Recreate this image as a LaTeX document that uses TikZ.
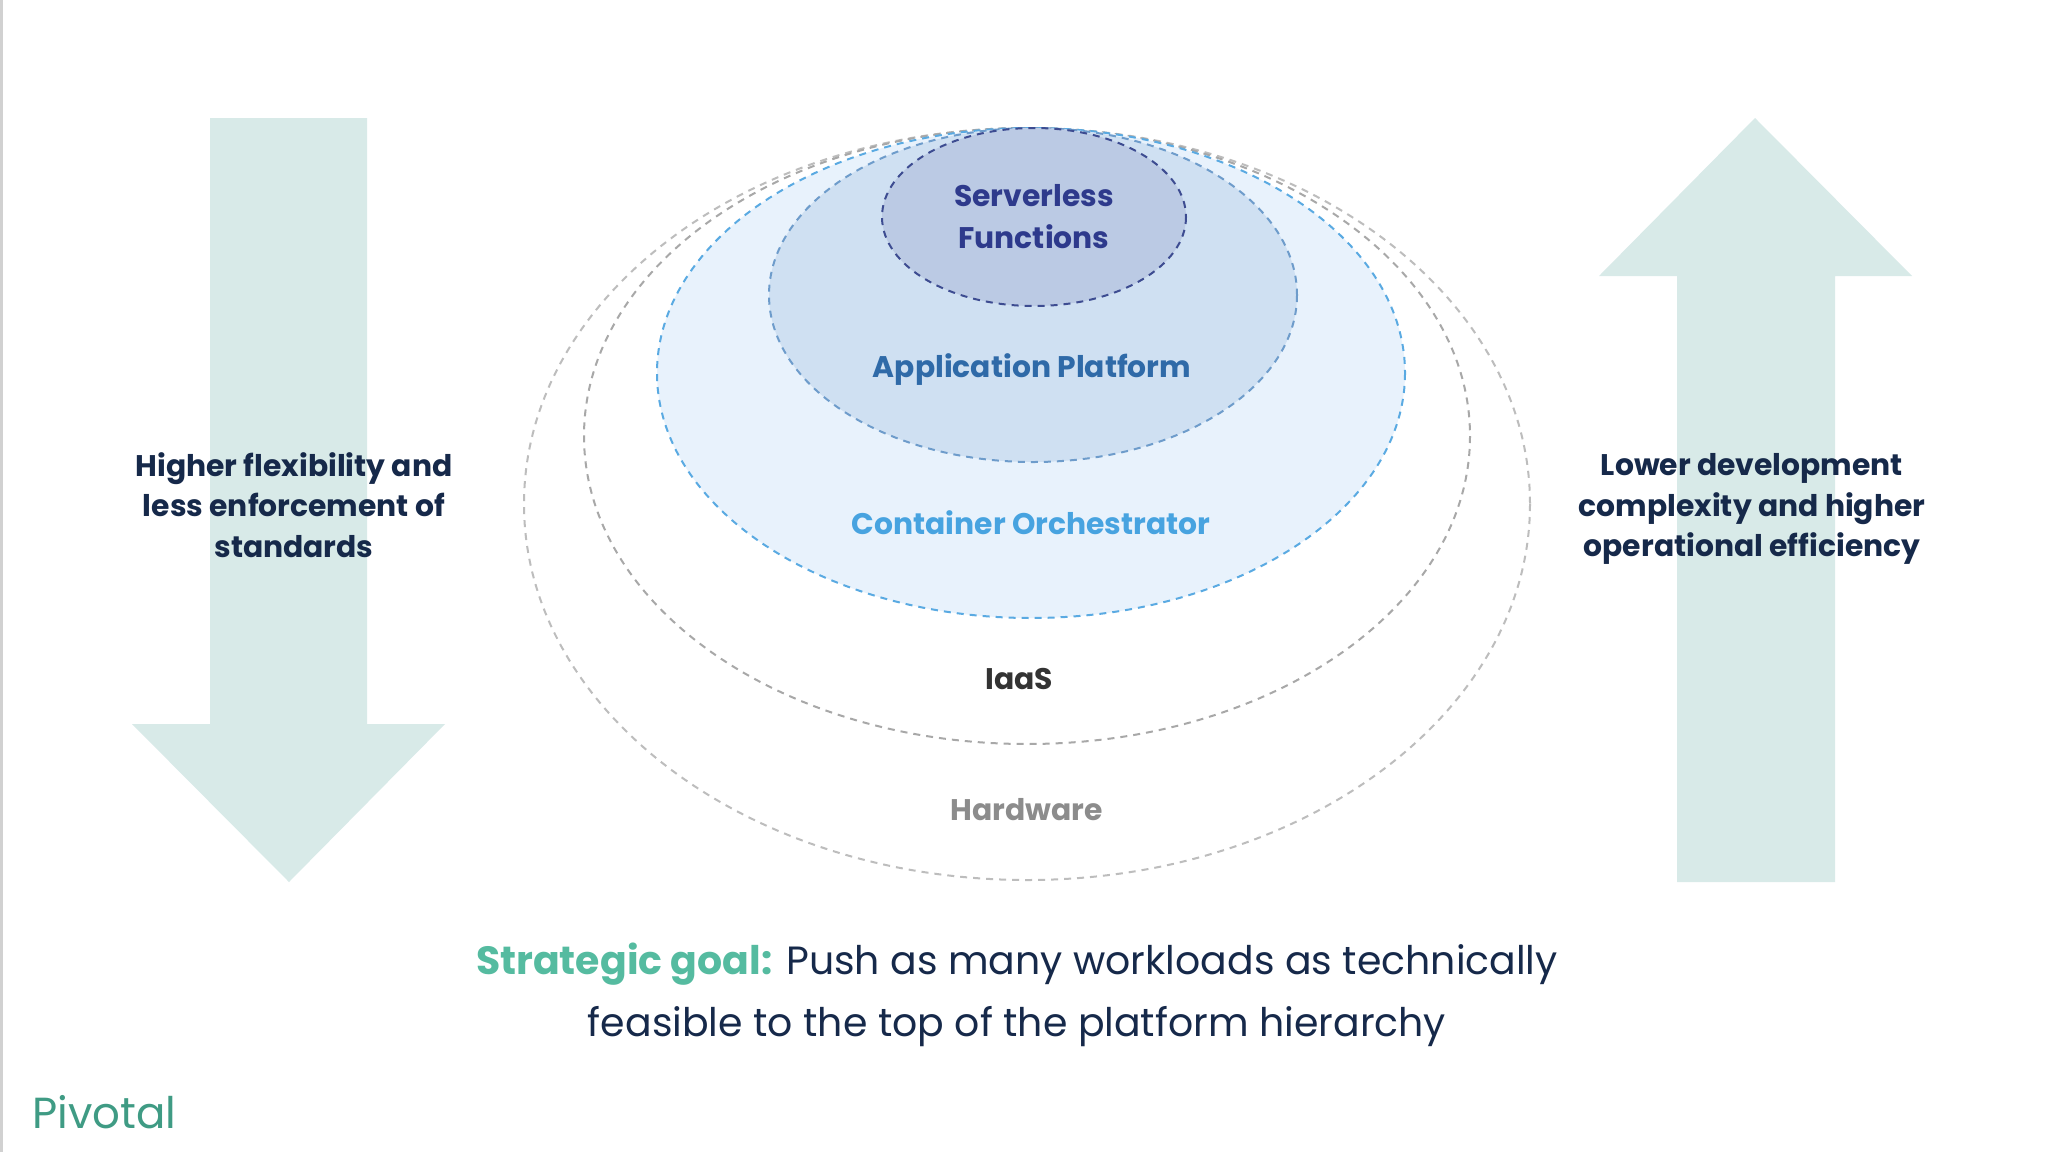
\documentclass[tikz,border=0pt]{standalone}
\usepackage{fontspec}
\setmainfont{Poppins}
\definecolor{arrowc}{HTML}{D8EAE8}
\definecolor{darkt}{HTML}{16294A}
\definecolor{teal1}{HTML}{55BBA0}
\definecolor{teal2}{HTML}{3F9B84}
\definecolor{hwline}{HTML}{BDBDBD}
\definecolor{iaasline}{HTML}{A8A8A8}
\definecolor{coline}{HTML}{5AAAE2}
\definecolor{cofill}{HTML}{E8F2FC}
\definecolor{apline}{HTML}{6E9CCB}
\definecolor{apfill}{HTML}{CFE0F2}
\definecolor{sfline}{HTML}{3D4C91}
\definecolor{sffill}{HTML}{BBCAE4}
\definecolor{sftext}{HTML}{2E3A8C}
\definecolor{aptext}{HTML}{2F6AA8}
\definecolor{cotext}{HTML}{47A3E0}
\tikzset{x=1pt,y=-1pt,
 lbl/.style={font=\bfseries\fontsize{29.8}{40.5}\selectfont,align=center,inner sep=0pt},
 sidelbl/.style={lbl,text=darkt},
 goal/.style={font=\fontsize{39.4}{62}\selectfont,text=darkt,align=center,inner sep=0pt},
 bigarrow/.style={fill=arrowc,draw=none},
 ring/.style={dash pattern=on 7pt off 6pt,line width=2pt}}
\begin{document}
\begin{tikzpicture}
\useasboundingbox (0,0) rectangle (2048,1152);
\fill[white] (0,0) rectangle (2048,1152);
\fill[black!18] (0,0) rectangle (3,1152);
\fill[bigarrow] (210,118) -- (367,118) -- (367,724) -- (445,724) -- (289,882) -- (132,724) -- (210,724) -- cycle;
\fill[bigarrow] (1755,118) -- (1912,276) -- (1835,276) -- (1835,882) -- (1677,882) -- (1677,276) -- (1599,276) -- cycle;
\draw[ring,draw=hwline] (1027,504) ellipse [x radius=503,y radius=376];
\draw[ring,draw=iaasline] (1027,436) ellipse [x radius=443,y radius=308];
\draw[ring,draw=coline,fill=cofill] (1031,373) ellipse [x radius=374,y radius=245];
\draw[ring,draw=apline,fill=apfill] (1033,295) ellipse [x radius=264,y radius=167];
\draw[ring,draw=sfline,fill=sffill] (1034,217) ellipse [x radius=152,y radius=89];
\node[lbl,text=sftext] (sf) at (1034,217) {Serverless\\[1.5pt]Functions};
\node[lbl,text=aptext] (ap) at (1032,370) {Application Platform};
\node[lbl,text=cotext] (co) at (1031,523) {Container Orchestrator};
\node[lbl,text=black!80] (ia) at (1019,679) {IaaS};
\node[lbl,text=black!45] (hw) at (1027,810) {Hardware};
\node[sidelbl] (l) at (294,505) {Higher flexibility and\\less enforcement of\\standards};
\node[sidelbl] (r) at (1752,509) {Lower development\\complexity and higher\\operational efficiency};
\node[goal] (g) at (1017,995) {{\bfseries\color{teal1}Strategic goal:} Push as many workloads as technically\\feasible to the top of the platform hierarchy};
\node[font=\fontsize{43.5}{50}\selectfont,text=teal2,anchor=west,inner sep=0pt] (p) at (32,1112) {Pivotal};
\end{tikzpicture}
\end{document}
